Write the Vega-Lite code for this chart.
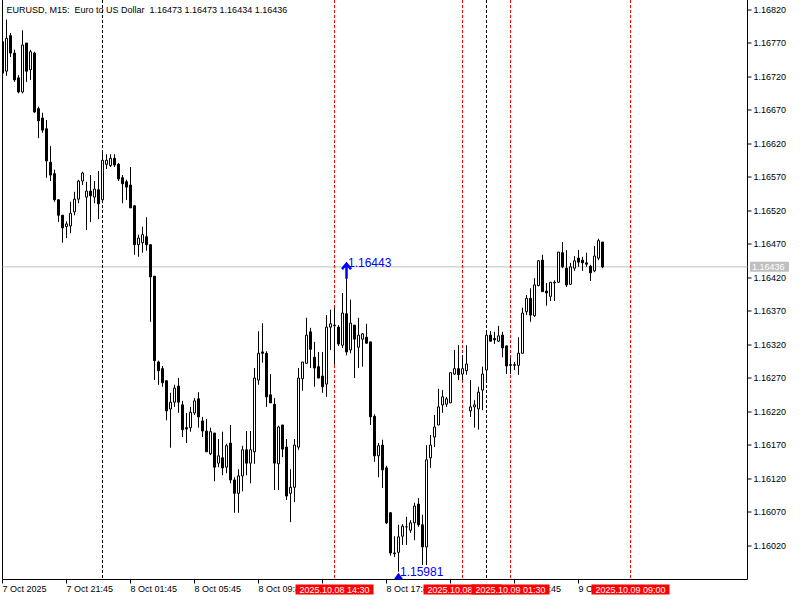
{
  "$schema": "https://vega.github.io/schema/vega-lite/v6.json",
  "width": 745,
  "height": 579.5,
  "autosize": {"type": "none"},
  "padding": {"left": 2.5, "top": 0, "right": 52.5, "bottom": 20.5},
  "background": "white",
  "config": {"view": {"stroke": null}, "font": "Liberation Sans"},
  "datasets": {
    "bars": [
      {"t":"2025-10-07T17:45","o":1.16772,"h":1.16775,"l":1.16721,"c":1.16725},
      {"t":"2025-10-07T18:00","o":1.16728,"h":1.16805,"l":1.16721,"c":1.16777},
      {"t":"2025-10-07T18:15","o":1.16781,"h":1.16785,"l":1.16749,"c":1.16755},
      {"t":"2025-10-07T18:30","o":1.16755,"h":1.16760,"l":1.16712,"c":1.16715},
      {"t":"2025-10-07T18:45","o":1.16718,"h":1.16722,"l":1.16695,"c":1.16697},
      {"t":"2025-10-07T19:00","o":1.16697,"h":1.16789,"l":1.16695,"c":1.16767},
      {"t":"2025-10-07T19:15","o":1.16770,"h":1.16770,"l":1.16712,"c":1.16728},
      {"t":"2025-10-07T19:30","o":1.16730,"h":1.16760,"l":1.16715,"c":1.16757},
      {"t":"2025-10-07T19:45","o":1.16755,"h":1.16757,"l":1.16666,"c":1.16667},
      {"t":"2025-10-07T20:00","o":1.16672,"h":1.16675,"l":1.16628,"c":1.16654},
      {"t":"2025-10-07T20:15","o":1.16658,"h":1.16666,"l":1.16636,"c":1.16640},
      {"t":"2025-10-07T20:30","o":1.16642,"h":1.16655,"l":1.16569,"c":1.16594},
      {"t":"2025-10-07T20:45","o":1.16592,"h":1.16616,"l":1.16564,"c":1.16573},
      {"t":"2025-10-07T21:00","o":1.16575,"h":1.16581,"l":1.16533,"c":1.16536},
      {"t":"2025-10-07T21:15","o":1.16536,"h":1.16537,"l":1.16503,"c":1.16513},
      {"t":"2025-10-07T21:30","o":1.16513,"h":1.16513,"l":1.16472,"c":1.16494},
      {"t":"2025-10-07T21:45","o":1.16496,"h":1.16504,"l":1.16479,"c":1.16500},
      {"t":"2025-10-07T22:00","o":1.16497,"h":1.16533,"l":1.16486,"c":1.16516},
      {"t":"2025-10-07T22:15","o":1.16518,"h":1.16548,"l":1.16513,"c":1.16537},
      {"t":"2025-10-07T22:30","o":1.16537,"h":1.16566,"l":1.16531,"c":1.16564},
      {"t":"2025-10-07T22:45","o":1.16564,"h":1.16578,"l":1.16558,"c":1.16576},
      {"t":"2025-10-07T23:00","o":1.16540,"h":1.16563,"l":1.16491,"c":1.16549},
      {"t":"2025-10-07T23:15","o":1.16549,"h":1.16573,"l":1.16503,"c":1.16542},
      {"t":"2025-10-07T23:30","o":1.16540,"h":1.16564,"l":1.16531,"c":1.16552},
      {"t":"2025-10-07T23:45","o":1.16551,"h":1.16579,"l":1.16507,"c":1.16530},
      {"t":"2025-10-08T00:00","o":1.16536,"h":1.16609,"l":1.16531,"c":1.16595},
      {"t":"2025-10-08T00:15","o":1.16589,"h":1.16604,"l":1.16582,"c":1.16595},
      {"t":"2025-10-08T00:30","o":1.16587,"h":1.16604,"l":1.16585,"c":1.16598},
      {"t":"2025-10-08T00:45","o":1.16598,"h":1.16604,"l":1.16585,"c":1.16588},
      {"t":"2025-10-08T01:00","o":1.16589,"h":1.16591,"l":1.16564,"c":1.16567},
      {"t":"2025-10-08T01:15","o":1.16569,"h":1.16573,"l":1.16531,"c":1.16560},
      {"t":"2025-10-08T01:30","o":1.16563,"h":1.16566,"l":1.16536,"c":1.16555},
      {"t":"2025-10-08T01:45","o":1.16558,"h":1.16585,"l":1.16524,"c":1.16524},
      {"t":"2025-10-08T02:00","o":1.16527,"h":1.16528,"l":1.16454,"c":1.16469},
      {"t":"2025-10-08T02:15","o":1.16469,"h":1.16484,"l":1.16451,"c":1.16479},
      {"t":"2025-10-08T02:30","o":1.16472,"h":1.16496,"l":1.16457,"c":1.16484},
      {"t":"2025-10-08T02:45","o":1.16481,"h":1.16510,"l":1.16460,"c":1.16469},
      {"t":"2025-10-08T03:00","o":1.16469,"h":1.16469,"l":1.16354,"c":1.16421},
      {"t":"2025-10-08T03:15","o":1.16422,"h":1.16422,"l":1.16267,"c":1.16296},
      {"t":"2025-10-08T03:30","o":1.16294,"h":1.16296,"l":1.16260,"c":1.16281},
      {"t":"2025-10-08T03:45","o":1.16284,"h":1.16288,"l":1.16257,"c":1.16263},
      {"t":"2025-10-08T04:00","o":1.16266,"h":1.16266,"l":1.16207,"c":1.16221},
      {"t":"2025-10-08T04:15","o":1.16224,"h":1.16248,"l":1.16166,"c":1.16234},
      {"t":"2025-10-08T04:30","o":1.16234,"h":1.16260,"l":1.16227,"c":1.16255},
      {"t":"2025-10-08T04:45","o":1.16258,"h":1.16270,"l":1.16218,"c":1.16234},
      {"t":"2025-10-08T05:00","o":1.16230,"h":1.16236,"l":1.16182,"c":1.16193},
      {"t":"2025-10-08T05:15","o":1.16196,"h":1.16218,"l":1.16173,"c":1.16194},
      {"t":"2025-10-08T05:30","o":1.16196,"h":1.16227,"l":1.16190,"c":1.16219},
      {"t":"2025-10-08T05:45","o":1.16218,"h":1.16240,"l":1.16215,"c":1.16236},
      {"t":"2025-10-08T06:00","o":1.16239,"h":1.16249,"l":1.16196,"c":1.16212},
      {"t":"2025-10-08T06:15","o":1.16206,"h":1.16212,"l":1.16182,"c":1.16191},
      {"t":"2025-10-08T06:30","o":1.16191,"h":1.16209,"l":1.16160,"c":1.16160},
      {"t":"2025-10-08T06:45","o":1.16157,"h":1.16196,"l":1.16155,"c":1.16190},
      {"t":"2025-10-08T07:00","o":1.16188,"h":1.16188,"l":1.16116,"c":1.16137},
      {"t":"2025-10-08T07:15","o":1.16143,"h":1.16179,"l":1.16137,"c":1.16154},
      {"t":"2025-10-08T07:30","o":1.16151,"h":1.16190,"l":1.16125,"c":1.16136},
      {"t":"2025-10-08T07:45","o":1.16137,"h":1.16172,"l":1.16128,"c":1.16169},
      {"t":"2025-10-08T08:00","o":1.16173,"h":1.16200,"l":1.16113,"c":1.16118},
      {"t":"2025-10-08T08:15","o":1.16118,"h":1.16122,"l":1.16069,"c":1.16098},
      {"t":"2025-10-08T08:30","o":1.16098,"h":1.16134,"l":1.16069,"c":1.16124},
      {"t":"2025-10-08T08:45","o":1.16124,"h":1.16169,"l":1.16101,"c":1.16163},
      {"t":"2025-10-08T09:00","o":1.16163,"h":1.16191,"l":1.16125,"c":1.16143},
      {"t":"2025-10-08T09:15","o":1.16143,"h":1.16191,"l":1.16113,"c":1.16163},
      {"t":"2025-10-08T09:30","o":1.16160,"h":1.16285,"l":1.16142,"c":1.16270},
      {"t":"2025-10-08T09:45","o":1.16267,"h":1.16340,"l":1.16260,"c":1.16307},
      {"t":"2025-10-08T10:00","o":1.16309,"h":1.16352,"l":1.16293,"c":1.16307},
      {"t":"2025-10-08T10:15","o":1.16307,"h":1.16310,"l":1.16227,"c":1.16242},
      {"t":"2025-10-08T10:30","o":1.16245,"h":1.16276,"l":1.16233,"c":1.16233},
      {"t":"2025-10-08T10:45","o":1.16231,"h":1.16240,"l":1.16103,"c":1.16143},
      {"t":"2025-10-08T11:00","o":1.16142,"h":1.16199,"l":1.16103,"c":1.16197},
      {"t":"2025-10-08T11:15","o":1.16200,"h":1.16200,"l":1.16152,"c":1.16164},
      {"t":"2025-10-08T11:30","o":1.16167,"h":1.16179,"l":1.16088,"c":1.16094},
      {"t":"2025-10-08T11:45","o":1.16098,"h":1.16134,"l":1.16055,"c":1.16107},
      {"t":"2025-10-08T12:00","o":1.16107,"h":1.16179,"l":1.16085,"c":1.16170},
      {"t":"2025-10-08T12:15","o":1.16167,"h":1.16285,"l":1.16163,"c":1.16270},
      {"t":"2025-10-08T12:30","o":1.16269,"h":1.16294,"l":1.16251,"c":1.16294},
      {"t":"2025-10-08T12:45","o":1.16292,"h":1.16360,"l":1.16292,"c":1.16334},
      {"t":"2025-10-08T13:00","o":1.16339,"h":1.16345,"l":1.16285,"c":1.16313},
      {"t":"2025-10-08T13:15","o":1.16301,"h":1.16324,"l":1.16257,"c":1.16285},
      {"t":"2025-10-08T13:30","o":1.16287,"h":1.16309,"l":1.16270,"c":1.16270},
      {"t":"2025-10-08T13:45","o":1.16273,"h":1.16309,"l":1.16248,"c":1.16257},
      {"t":"2025-10-08T14:00","o":1.16261,"h":1.16364,"l":1.16242,"c":1.16346},
      {"t":"2025-10-08T14:15","o":1.16346,"h":1.16372,"l":1.16312,"c":1.16351},
      {"t":"2025-10-08T14:30","o":1.16348,"h":1.16375,"l":1.16290,"c":1.16349},
      {"t":"2025-10-08T14:45","o":1.16346,"h":1.16349,"l":1.16318,"c":1.16321},
      {"t":"2025-10-08T15:00","o":1.16319,"h":1.16397,"l":1.16315,"c":1.16367},
      {"t":"2025-10-08T15:15","o":1.16366,"h":1.16443,"l":1.16304,"c":1.16309},
      {"t":"2025-10-08T15:30","o":1.16312,"h":1.16387,"l":1.16307,"c":1.16352},
      {"t":"2025-10-08T15:45","o":1.16349,"h":1.16349,"l":1.16270,"c":1.16328},
      {"t":"2025-10-08T16:00","o":1.16316,"h":1.16360,"l":1.16285,"c":1.16334},
      {"t":"2025-10-08T16:15","o":1.16328,"h":1.16337,"l":1.16287,"c":1.16336},
      {"t":"2025-10-08T16:30","o":1.16331,"h":1.16351,"l":1.16322,"c":1.16322},
      {"t":"2025-10-08T16:45","o":1.16324,"h":1.16324,"l":1.16200,"c":1.16212},
      {"t":"2025-10-08T17:00","o":1.16213,"h":1.16216,"l":1.16145,"c":1.16154},
      {"t":"2025-10-08T17:15","o":1.16154,"h":1.16173,"l":1.16122,"c":1.16169},
      {"t":"2025-10-08T17:30","o":1.16170,"h":1.16178,"l":1.16106,"c":1.16133},
      {"t":"2025-10-08T17:45","o":1.16136,"h":1.16139,"l":1.16052,"c":1.16054},
      {"t":"2025-10-08T18:00","o":1.16069,"h":1.16070,"l":1.16005,"c":1.16009},
      {"t":"2025-10-08T18:15","o":1.16009,"h":1.16034,"l":1.16003,"c":1.16008},
      {"t":"2025-10-08T18:30","o":1.16010,"h":1.16051,"l":1.15981,"c":1.16033},
      {"t":"2025-10-08T18:45","o":1.16034,"h":1.16052,"l":1.16021,"c":1.16049},
      {"t":"2025-10-08T19:00","o":1.16048,"h":1.16063,"l":1.16021,"c":1.16048},
      {"t":"2025-10-08T19:15","o":1.16043,"h":1.16058,"l":1.16039,"c":1.16054},
      {"t":"2025-10-08T19:30","o":1.16054,"h":1.16084,"l":1.16028,"c":1.16079},
      {"t":"2025-10-08T19:45","o":1.16082,"h":1.16091,"l":1.16048,"c":1.16051},
      {"t":"2025-10-08T20:00","o":1.16051,"h":1.16066,"l":1.15991,"c":1.16018},
      {"t":"2025-10-08T20:15","o":1.16018,"h":1.16170,"l":1.15991,"c":1.16148},
      {"t":"2025-10-08T20:30","o":1.16151,"h":1.16185,"l":1.16136,"c":1.16170},
      {"t":"2025-10-08T20:45","o":1.16182,"h":1.16215,"l":1.16167,"c":1.16197},
      {"t":"2025-10-08T21:00","o":1.16200,"h":1.16254,"l":1.16200,"c":1.16227},
      {"t":"2025-10-08T21:15","o":1.16230,"h":1.16252,"l":1.16218,"c":1.16242},
      {"t":"2025-10-08T21:30","o":1.16231,"h":1.16242,"l":1.16227,"c":1.16239},
      {"t":"2025-10-08T21:45","o":1.16233,"h":1.16278,"l":1.16233,"c":1.16278},
      {"t":"2025-10-08T22:00","o":1.16276,"h":1.16312,"l":1.16275,"c":1.16284},
      {"t":"2025-10-08T22:15","o":1.16284,"h":1.16319,"l":1.16267,"c":1.16275},
      {"t":"2025-10-08T22:30","o":1.16276,"h":1.16304,"l":1.16267,"c":1.16284},
      {"t":"2025-10-08T22:45","o":1.16281,"h":1.16319,"l":1.16275,"c":1.16291},
      {"t":"2025-10-08T23:00","o":1.16221,"h":1.16267,"l":1.16212,"c":1.16227},
      {"t":"2025-10-08T23:15","o":1.16227,"h":1.16237,"l":1.16196,"c":1.16230},
      {"t":"2025-10-08T23:30","o":1.16224,"h":1.16257,"l":1.16193,"c":1.16249},
      {"t":"2025-10-08T23:45","o":1.16252,"h":1.16287,"l":1.16222,"c":1.16276},
      {"t":"2025-10-09T00:00","o":1.16282,"h":1.16340,"l":1.16264,"c":1.16334},
      {"t":"2025-10-09T00:15","o":1.16334,"h":1.16340,"l":1.16325,"c":1.16325},
      {"t":"2025-10-09T00:30","o":1.16329,"h":1.16339,"l":1.16321,"c":1.16327},
      {"t":"2025-10-09T00:45","o":1.16325,"h":1.16348,"l":1.16324,"c":1.16333},
      {"t":"2025-10-09T01:00","o":1.16334,"h":1.16339,"l":1.16301,"c":1.16315},
      {"t":"2025-10-09T01:15","o":1.16318,"h":1.16318,"l":1.16276,"c":1.16288},
      {"t":"2025-10-09T01:30","o":1.16290,"h":1.16301,"l":1.16276,"c":1.16289},
      {"t":"2025-10-09T01:45","o":1.16289,"h":1.16294,"l":1.16282,"c":1.16290},
      {"t":"2025-10-09T02:00","o":1.16289,"h":1.16331,"l":1.16275,"c":1.16307},
      {"t":"2025-10-09T02:15","o":1.16307,"h":1.16375,"l":1.16307,"c":1.16367},
      {"t":"2025-10-09T02:30","o":1.16369,"h":1.16394,"l":1.16364,"c":1.16389},
      {"t":"2025-10-09T02:45","o":1.16389,"h":1.16404,"l":1.16354,"c":1.16364},
      {"t":"2025-10-09T03:00","o":1.16363,"h":1.16419,"l":1.16361,"c":1.16409},
      {"t":"2025-10-09T03:15","o":1.16408,"h":1.16446,"l":1.16407,"c":1.16445},
      {"t":"2025-10-09T03:30","o":1.16446,"h":1.16454,"l":1.16399,"c":1.16399},
      {"t":"2025-10-09T03:45","o":1.16400,"h":1.16412,"l":1.16378,"c":1.16397},
      {"t":"2025-10-09T04:00","o":1.16392,"h":1.16413,"l":1.16385,"c":1.16413},
      {"t":"2025-10-09T04:15","o":1.16413,"h":1.16416,"l":1.16385,"c":1.16412},
      {"t":"2025-10-09T04:30","o":1.16413,"h":1.16458,"l":1.16412,"c":1.16458},
      {"t":"2025-10-09T04:45","o":1.16457,"h":1.16473,"l":1.16434,"c":1.16436},
      {"t":"2025-10-09T05:00","o":1.16434,"h":1.16461,"l":1.16406,"c":1.16409},
      {"t":"2025-10-09T05:15","o":1.16410,"h":1.16442,"l":1.16409,"c":1.16436},
      {"t":"2025-10-09T05:30","o":1.16434,"h":1.16452,"l":1.16430,"c":1.16445},
      {"t":"2025-10-09T05:45","o":1.16449,"h":1.16461,"l":1.16436,"c":1.16443},
      {"t":"2025-10-09T06:00","o":1.16446,"h":1.16451,"l":1.16430,"c":1.16442},
      {"t":"2025-10-09T06:15","o":1.16442,"h":1.16457,"l":1.16436,"c":1.16440},
      {"t":"2025-10-09T06:30","o":1.16437,"h":1.16439,"l":1.16415,"c":1.16427},
      {"t":"2025-10-09T06:45","o":1.16430,"h":1.16467,"l":1.16428,"c":1.16452},
      {"t":"2025-10-09T07:00","o":1.16449,"h":1.16478,"l":1.16446,"c":1.16475},
      {"t":"2025-10-09T07:15","o":1.16473,"h":1.16473,"l":1.16434,"c":1.16436}
    ],
    "events": [
      {"t":"2025-10-08T14:30","label":"2025.10.08 14:30","grp":"a"},
      {"t":"2025-10-08T22:30","label":"2025.10.08 22:30","grp":"a"},
      {"t":"2025-10-09T01:30","label":"2025.10.09 01:30","grp":"b"},
      {"t":"2025-10-09T09:00","label":"2025.10.09 09:00","grp":"a"}
    ],
    "extremes": [
      {"t":"2025-10-08T15:15","price":1.16443,"label":"1.16443","kind":"high"},
      {"t":"2025-10-08T18:30","price":1.15981,"label":"1.15981","kind":"low"}
    ],
    "bid": [{"price":1.16436,"label":"1.16436"}]
  },
  "layer": [
    {
      "data": {"values": [{"label": "EURUSD, M15:\u00a0 Euro to US Dollar\u00a0 1.16473 1.16473 1.16434 1.16436"}]},
      "mark": {"type": "text", "align": "left", "baseline": "alphabetic", "dx": 4, "dy": 12.5, "fontSize": 9, "font": "Liberation Sans", "color": "black"},
      "encoding": {
        "x": {"datum": {"year":2025,"month":10,"date":7,"hours":17,"minutes":45}, "type": "temporal"},
        "y": {"datum": 1.168342, "type": "quantitative"},
        "text": {"field": "label"}
      }
    },
    {
      "data": {"values": [{"t": "2025-10-07T17:45"}]},
      "mark": {"type": "rule", "color": "black", "strokeWidth": 1},
      "encoding": {"x": {"field": "t", "type": "temporal"}}
    },
    {
      "data": {"name": "bid"},
      "mark": {"type": "rule", "color": "#c0c0c0", "strokeWidth": 1},
      "encoding": {"y": {"field": "price", "type": "quantitative"}}
    },
    {
      "data": {"values": [{"t": "2025-10-08T00:00"}, {"t": "2025-10-09T00:00"}]},
      "mark": {"type": "rule", "color": "black", "strokeWidth": 1, "strokeDash": [3, 2]},
      "encoding": {"x": {"field": "t", "type": "temporal"}}
    },
    {
      "data": {"name": "events"},
      "mark": {"type": "rule", "color": "#ff0000", "strokeWidth": 1, "strokeDash": [3, 2]},
      "encoding": {"x": {"field": "t", "type": "temporal"}}
    },
    {
      "data": {"name": "bars"},
      "mark": {"type": "rule", "color": "black", "strokeWidth": 1, "clip": true},
      "encoding": {
        "x": {
          "field": "t", "type": "temporal",
          "scale": {"domain": [{"year":2025,"month":10,"date":7,"hours":17,"minutes":45}, {"year":2025,"month":10,"date":9,"hours":16,"minutes":18,"seconds":45}], "nice": false, "padding": 0},
          "axis": {
            "values": [
              {"year":2025,"month":10,"date":7,"hours":17,"minutes":45},
              {"year":2025,"month":10,"date":7,"hours":21,"minutes":45},
              {"year":2025,"month":10,"date":8,"hours":1,"minutes":45},
              {"year":2025,"month":10,"date":8,"hours":5,"minutes":45},
              {"year":2025,"month":10,"date":8,"hours":9,"minutes":45},
              {"year":2025,"month":10,"date":8,"hours":13,"minutes":45},
              {"year":2025,"month":10,"date":8,"hours":17,"minutes":45},
              {"year":2025,"month":10,"date":8,"hours":21,"minutes":45},
              {"year":2025,"month":10,"date":9,"hours":1,"minutes":45},
              {"year":2025,"month":10,"date":9,"hours":5,"minutes":45}
            ],
            "tickCount": 30,
            "labelExpr": "time(datum.value) == time(datetime(2025,9,7,17,45)) ? '7 Oct 2025' : (time(datum.value) == time(datetime(2025,9,8,13,45)) || time(datum.value) == time(datetime(2025,9,8,21,45))) ? '' : timeFormat(datum.value, '%-d %b %H:%M')",
            "labelAlign": "left", "labelFont": "Liberation Sans", "labelFontSize": 9, "labelColor": "black",
            "labelPadding": 1, "labelOverlap": false, "labelFlush": false, "labelBound": false,
            "tickColor": "black", "tickSize": 4, "domainColor": "black", "grid": false, "title": null, "translate": 0
          }
        },
        "y": {
          "field": "l", "type": "quantitative",
          "scale": {"domain": [1.159694, 1.168342], "nice": false, "zero": false, "padding": 0},
          "axis": {
            "orient": "right",
            "values": [1.1602,1.1607,1.1612,1.1617,1.1622,1.1627,1.1632,1.1637,1.1642,1.1647,1.1652,1.1657,1.1662,1.1667,1.1672,1.1677,1.1682],
            "tickCount": 40,
            "format": ".5f", "labelFont": "Liberation Sans", "labelFontSize": 9, "labelColor": "black",
            "labelPadding": 2, "labelOverlap": false, "labelFlush": false, "labelBound": false,
            "tickColor": "black", "tickSize": 4, "domainColor": "black", "grid": false, "title": null, "translate": 0
          }
        },
        "y2": {"field": "h"}
      }
    },
    {
      "data": {"name": "bars"},
      "mark": {"type": "bar", "width": 2, "stroke": "black", "strokeWidth": 1, "clip": true},
      "encoding": {
        "x": {"field": "t", "type": "temporal"},
        "y": {"field": "o", "type": "quantitative"},
        "y2": {"field": "c"},
        "fill": {"condition": {"test": "datum.c >= datum.o", "value": "white"}, "value": "black"}
      }
    },
    {
      "data": {"name": "extremes"},
      "transform": [{"filter": "datum.kind == 'high'"}],
      "mark": {"type": "point", "shape": "M-4.5,7L0,1.5L4.5,7M0,2V16.5", "size": 4, "filled": false, "stroke": "#0000ff", "strokeWidth": 2.5, "opacity": 1},
      "encoding": {
        "x": {"field": "t", "type": "temporal"},
        "y": {"field": "price", "type": "quantitative"}
      }
    },
    {
      "data": {"name": "extremes"},
      "transform": [{"filter": "datum.kind == 'low'"}],
      "mark": {"type": "point", "shape": "M0,1L5,8L-5,8Z", "size": 4, "filled": true, "fill": "#0000ff", "strokeWidth": 0, "opacity": 1, "clip": true},
      "encoding": {
        "x": {"field": "t", "type": "temporal"},
        "y": {"field": "price", "type": "quantitative"}
      }
    },
    {
      "data": {"name": "extremes"},
      "mark": {"type": "text", "align": "left", "baseline": "middle", "dx": 1.5, "dy": 0.5, "font": "Liberation Sans", "fontSize": 12, "color": "#0000ff"},
      "encoding": {
        "x": {"field": "t", "type": "temporal"},
        "y": {"field": "price", "type": "quantitative"},
        "text": {"field": "label"}
      }
    },
    {
      "data": {"name": "events"},
      "transform": [{"filter": "datum.grp == 'a'"}],
      "mark": {"type": "point", "shape": "M-39,5H39V15H-39Z", "size": 4, "filled": true, "fill": "#ff0000", "strokeWidth": 0, "opacity": 1},
      "encoding": {
        "x": {"field": "t", "type": "temporal"},
        "y": {"datum": 1.159694, "type": "quantitative"}
      }
    },
    {
      "data": {"name": "events"},
      "transform": [{"filter": "datum.grp == 'a'"}],
      "mark": {"type": "text", "align": "center", "baseline": "middle", "dy": 10, "font": "Liberation Sans", "fontSize": 9, "color": "white"},
      "encoding": {
        "x": {"field": "t", "type": "temporal"},
        "y": {"datum": 1.159694, "type": "quantitative"},
        "text": {"field": "label"}
      }
    },
    {
      "data": {"name": "events"},
      "transform": [{"filter": "datum.grp == 'b'"}],
      "mark": {"type": "point", "shape": "M-39,5H39V15H-39Z", "size": 4, "filled": true, "fill": "#ff0000", "strokeWidth": 0, "opacity": 1},
      "encoding": {
        "x": {"field": "t", "type": "temporal"},
        "y": {"datum": 1.159694, "type": "quantitative"}
      }
    },
    {
      "data": {"name": "events"},
      "transform": [{"filter": "datum.grp == 'b'"}],
      "mark": {"type": "text", "align": "center", "baseline": "middle", "dy": 10, "font": "Liberation Sans", "fontSize": 9, "color": "white"},
      "encoding": {
        "x": {"field": "t", "type": "temporal"},
        "y": {"datum": 1.159694, "type": "quantitative"},
        "text": {"field": "label"}
      }
    },
    {
      "data": {"name": "bid"},
      "mark": {"type": "point", "shape": "M2.5,-5H41.5V5H2.5Z", "size": 4, "filled": true, "fill": "#c0c0c0", "strokeWidth": 0, "opacity": 1},
      "encoding": {
        "x": {"datum": {"year":2025,"month":10,"date":9,"hours":16,"minutes":18,"seconds":45}, "type": "temporal"},
        "y": {"field": "price", "type": "quantitative"}
      }
    },
    {
      "data": {"name": "bid"},
      "mark": {"type": "text", "align": "left", "baseline": "middle", "dx": 4.5, "font": "Liberation Sans", "fontSize": 9, "color": "white"},
      "encoding": {
        "x": {"datum": {"year":2025,"month":10,"date":9,"hours":16,"minutes":18,"seconds":45}, "type": "temporal"},
        "y": {"field": "price", "type": "quantitative"},
        "text": {"field": "label"}
      }
    }
  ]
}
